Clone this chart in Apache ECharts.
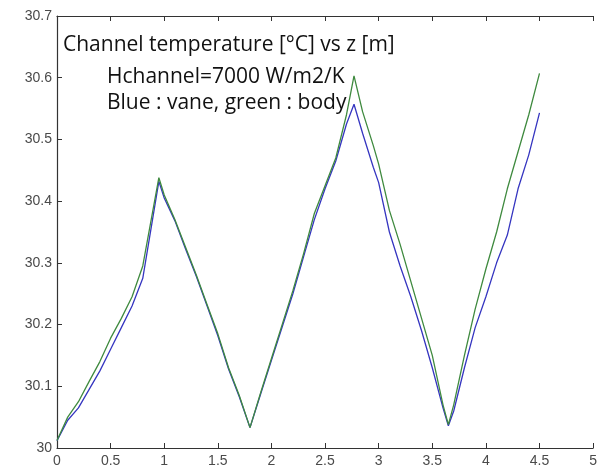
<!DOCTYPE html>
<html><head><meta charset="utf-8">
<script src="https://cdn.jsdelivr.net/npm/echarts@6/dist/echarts.min.js"></script>
<style>html,body{margin:0;padding:0;background:#fff}#c{width:600px;height:468px}</style>
</head><body><div id="c"></div>
<script>
const zBody = [0,0.1,0.2,0.3,0.4,0.5,0.6,0.7,0.8,0.95,1.0,1.1,1.2,1.3,1.4,1.5,1.6,1.7,1.8,1.9,2.0,2.1,2.2,2.3,2.4,2.5,2.6,2.7,2.77,2.85,2.95,3.0,3.1,3.2,3.3,3.4,3.5,3.6,3.65,3.7,3.8,3.9,4.0,4.1,4.2,4.3,4.4,4.5];
const tBody = [30.012,30.05,30.075,30.108,30.14,30.178,30.21,30.245,30.295,30.438,30.41,30.37,30.325,30.28,30.232,30.185,30.13,30.085,30.033,30.09,30.145,30.2,30.255,30.315,30.38,30.425,30.47,30.54,30.603,30.545,30.49,30.46,30.385,30.33,30.27,30.21,30.15,30.07,30.038,30.07,30.15,30.225,30.29,30.35,30.42,30.48,30.54,30.607];
const zVane = [0,0.1,0.2,0.3,0.4,0.5,0.6,0.7,0.8,0.95,1.0,1.1,1.2,1.3,1.4,1.5,1.6,1.7,1.8,1.9,2.0,2.1,2.2,2.3,2.4,2.5,2.6,2.7,2.77,2.85,2.95,3.0,3.1,3.2,3.3,3.4,3.5,3.6,3.65,3.7,3.8,3.9,4.0,4.1,4.2,4.3,4.4,4.5];
const tVane = [30.012,30.045,30.065,30.095,30.125,30.16,30.195,30.23,30.275,30.432,30.405,30.368,30.322,30.278,30.23,30.182,30.128,30.083,30.033,30.088,30.142,30.196,30.25,30.31,30.37,30.42,30.465,30.525,30.557,30.51,30.455,30.43,30.35,30.295,30.245,30.19,30.13,30.065,30.036,30.06,30.13,30.195,30.245,30.3,30.345,30.42,30.475,30.543];
const xTicks = {min:0, max:5, interval:0.5};
const yTicks = {min:30, max:30.7, interval:0.1};
const notes = ["Channel temperature [°C] vs z [m]", "Hchannel=7000 W/m2/K", "Blue : vane, green : body"];

const chart = echarts.init(document.getElementById('c'), null, {renderer:'canvas'});
const lblStyle = {color:'#4a4a4a', fontFamily:'Liberation Sans, Arial', fontSize:14};
chart.setOption({
  animation:false,
  backgroundColor:'#fff',
  grid:{left:57, top:16, width:550, height:433, containLabel:false},
  xAxis:[{
    type:'value', min:xTicks.min, max:xTicks.max, interval:xTicks.interval, position:'bottom',
    axisLine:{show:true, onZero:false, lineStyle:{color:'#333', width:1.2}},
    axisTick:{show:true, inside:true, length:5, lineStyle:{color:'#333'}},
    axisLabel:Object.assign({margin:6, formatter:v=>String(+v.toFixed(1))}, lblStyle),
    splitLine:{show:false}
  },{
    type:'value', min:xTicks.min, max:xTicks.max, interval:xTicks.interval, position:'top',
    axisLine:{show:true, onZero:false, lineStyle:{color:'#333', width:1.2}},
    axisTick:{show:true, inside:true, length:5, lineStyle:{color:'#333'}},
    axisLabel:{show:false}, splitLine:{show:false}
  }],
  yAxis:[{
    type:'value', min:yTicks.min, max:yTicks.max, interval:yTicks.interval,
    axisLine:{show:true, onZero:false, lineStyle:{color:'#333', width:1.2}},
    axisTick:{show:true, inside:true, length:5, lineStyle:{color:'#333'}},
    axisLabel:Object.assign({margin:5, formatter:v=>String(+v.toFixed(1))}, lblStyle),
    splitLine:{show:false}
  }],
  series:[
    {name:'vane', type:'line', showSymbol:false, symbol:'none', data:zVane.map((z,i)=>[z,tVane[i]]),
     lineStyle:{color:'#3535c0', width:1.3}, itemStyle:{color:'#3535c0'}},
    {name:'body', type:'line', showSymbol:false, symbol:'none', data:zBody.map((z,i)=>[z,tBody[i]]),
     lineStyle:{color:'#3f8a3f', width:1.3}, itemStyle:{color:'#3f8a3f'}}
  ],
  graphic:[
    {type:'text', left:63, top:35, style:{text:notes[0], fill:'#111', font:'21px "Open Sans", sans-serif'}},
    {type:'text', left:107, top:67, style:{text:notes[1], fill:'#111', font:'21px "Open Sans", sans-serif'}},
    {type:'text', left:107, top:93, style:{text:notes[2], fill:'#111', font:'21px "Open Sans", sans-serif'}}
  ]
});
</script></body></html>
